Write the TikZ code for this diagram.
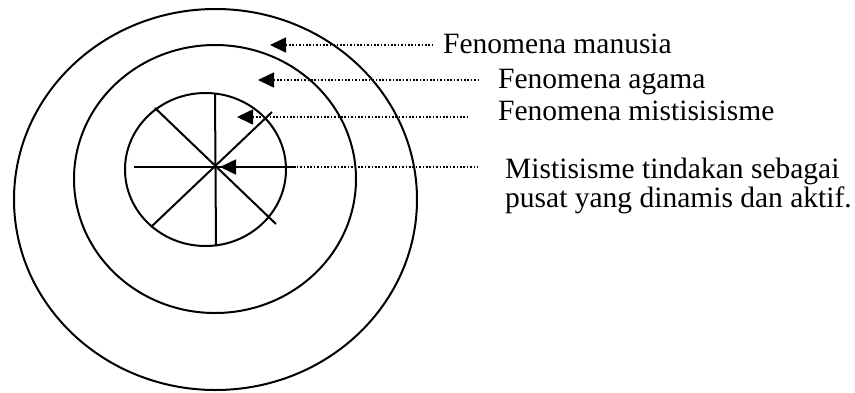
\documentclass[tikz,border=0pt]{standalone}
\usepackage{fontspec}
\setmainfont{Liberation Serif}
\usetikzlibrary{arrows.meta}

\tikzset{
  ring/.style={line width=2pt},
  spoke/.style={line width=2pt},
  pointer/.style={line width=1.6pt, dash pattern=on 1.5pt off 1.9pt,
    {Triangle[length=16pt,width=15pt]}-},
  label/.style={anchor=base west, inner sep=0pt, font=\fontsize{29.5}{26}\selectfont}
}

\begin{document}
\begin{tikzpicture}[x=1pt,y=-1pt]
        \useasboundingbox (0,0) rectangle (855,392);
        \coordinate (C) at (216,167);
        % lingkaran
        \draw[ring] (215.5,199.5) circle [x radius=201.5,y radius=190.5];
        \draw[ring] (215,179) circle [x radius=141,y radius=134];
        \draw[ring] (205.5,169.5) circle [x radius=80.5,y radius=76.5];
        % jari-jari
        \coordinate (N) at (215,93);
        \coordinate (S) at (216,246);
        \coordinate (W) at (134,167);
        \coordinate (E) at (296,167);
        \coordinate (NW) at (155,108);
        \coordinate (NE) at (272,112);
        \coordinate (SW) at (151,227);
        \coordinate (SE) at (276,224);
        \draw[spoke] (N) -- (S);
        \draw[spoke] (W) -- (E);
        \draw[spoke] (NW) -- (SE);
        \draw[spoke] (SW) -- (NE);
        % keterangan
        \node[label] (manusia) at (443,53) {Fenomena manusia};
        \node[label] (agama) at (498,88) {Fenomena agama};
        \node[label] (mistik) at (498,120) {Fenomena mistisisisme};
        \node[label] (pusat1) at (505,178) {Mistisisme tindakan sebagai};
        \node[label] (pusat2) at (505,207) {pusat yang dinamis dan aktif.};
        \coordinate (T1) at (270,45);
        \coordinate (T2) at (258,80);
        \coordinate (T3) at (237,117);
        \coordinate (T4) at (220,167);
        \coordinate (E1) at (432,45);
        \coordinate (E2) at (478,80);
        \coordinate (E3) at (467,117);
        \coordinate (E4) at (478,167);
        \draw[pointer] (T1) -- (E1);
        \draw[pointer] (T2) -- (E2);
        \draw[pointer] (T3) -- (E3);
        \draw[pointer] (T4) -- (E4);
    \end{tikzpicture}
\end{document}
